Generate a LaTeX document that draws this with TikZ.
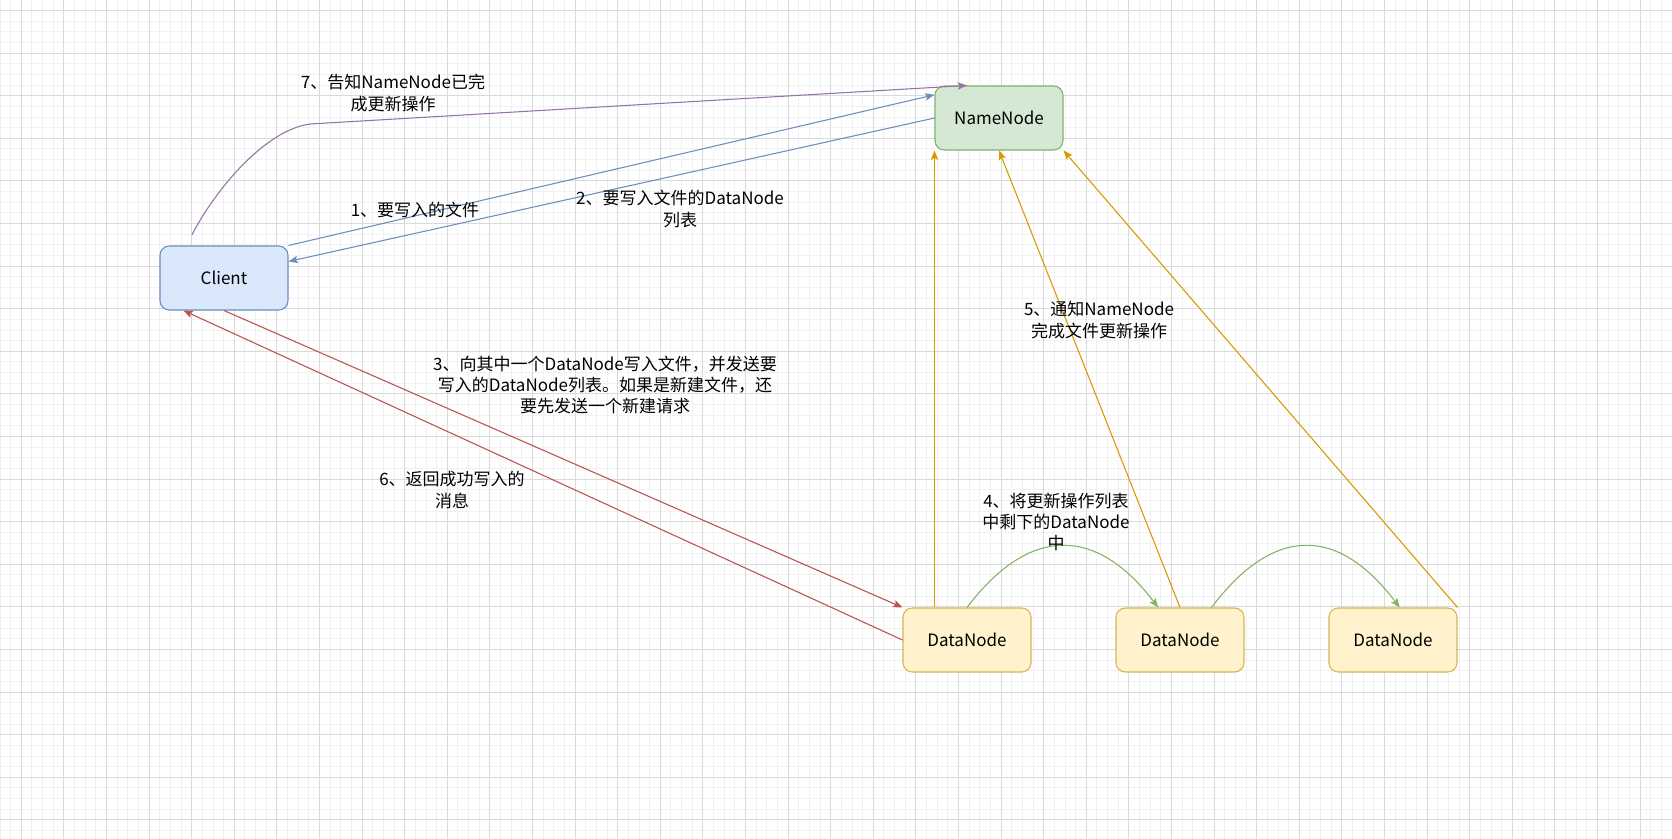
\documentclass[tikz,border=0pt]{standalone}
\usepackage{fontspec}
\setmainfont{Noto Sans CJK SC}
\usetikzlibrary{arrows.meta}

\definecolor{clientfill}{HTML}{DAE8FC}
\definecolor{clientline}{HTML}{6C8EBF}
\definecolor{namefill}{HTML}{D5E8D4}
\definecolor{nameline}{HTML}{82B366}
\definecolor{datafill}{HTML}{FFF2CC}
\definecolor{dataline}{HTML}{D6B656}
\definecolor{purpleline}{HTML}{9673A6}
\definecolor{redline}{HTML}{B85450}
\definecolor{orangeline}{HTML}{D79B00}
\definecolor{majorgrid}{HTML}{DADADA}
\definecolor{minorgrid}{HTML}{F1F1F1}

\begin{document}
\begin{tikzpicture}[
    x=0.75pt, y=-0.75pt,
    box/.style={
        rectangle,
        rounded corners=7pt,
        line width=0.8pt,
        minimum width=96pt,
        minimum height=48pt,
        font=\fontsize{12.75pt}{16pt}\selectfont
    },
    client/.style={
        box,
        draw=clientline,
        fill=clientfill
    },
    namenode/.style={
        box,
        draw=nameline,
        fill=namefill
    },
    datanode/.style={
        box,
        draw=dataline,
        fill=datafill
    },
    flow/.style={
        line width=0.8pt,
        -{Stealth[length=7pt, width=5.5pt, inset=1.5pt]}
    },
    blueflow/.style={flow, color=clientline},
    purpleflow/.style={flow, color=purpleline},
    redflow/.style={flow, color=redline},
    orangeflow/.style={flow, color=orangeline},
    greenflow/.style={flow, color=nameline},
    msgtext/.style={
        align=center,
        inner sep=0pt,
        font=\fontsize{12.75pt}{16pt}\selectfont
    }
]

% Background grid
\fill[white] (0,0) rectangle (1672,839);
\useasboundingbox (0,0) rectangle (1672,839);
\foreach \i in {0,...,157}
    \draw[minorgrid, line width=0.75pt] ({\i*10.65},0) -- ({\i*10.65},839);
\foreach \j in {0,...,79}
    \draw[minorgrid, line width=0.75pt] (0,{-0.15+\j*10.65}) -- (1672,{-0.15+\j*10.65});
\foreach \i in {0,...,39}
    \draw[majorgrid, line width=0.75pt] ({21.3+\i*42.6},0) -- ({21.3+\i*42.6},839);
\foreach \j in {0,...,19}
    \draw[majorgrid, line width=0.75pt] (0,{10.5+\j*42.6}) -- (1672,{10.5+\j*42.6});

% Nodes
\node[client] (client) at (224,278) {Client};
\node[namenode] (namenode) at (999,118) {NameNode};
\node[datanode] (dn1) at (967,640) {DataNode};
\node[datanode] (dn2) at (1180,640) {DataNode};
\node[datanode] (dn3) at (1393,640) {DataNode};

% Client <-> NameNode
\draw[blueflow] (client.north east) -- ([yshift=-7pt]namenode.north west);
\draw[blueflow] (namenode.west) -- ([yshift=-12pt]client.north east);

\coordinate (c7) at ([xshift=-24pt, yshift=8pt]client.north);
\draw[purpleflow] (c7) .. controls (215,190) and (265,130) .. (310,124)
    -- ([xshift=-24pt]namenode.north);

% Client <-> DataNode
\draw[redflow] (client.south) -- (dn1.north west);
\draw[redflow] (dn1.west) -- ([xshift=18pt]client.south west);

% DataNode -> NameNode
\draw[orangeflow] ([xshift=24pt]dn1.north west) -- (namenode.south west);
\draw[orangeflow] (dn2.north) -- (namenode.south);
\draw[orangeflow] (dn3.north east) -- (namenode.south east);

% DataNode -> DataNode
\draw[greenflow] (dn1.north) .. controls +(62,-82) and +(-62,-82)
    .. ([xshift=32pt]dn2.north west);
\draw[greenflow] ([xshift=72pt]dn2.north west) .. controls +(62,-82) and +(-62,-82)
    .. ([xshift=5pt]dn3.north);

% Labels
\node[msgtext] (t7) at (393,93) {7、告知NameNode已完\\成更新操作};
\node[msgtext] (t1) at (415,210) {1、要写入的文件};
\node[msgtext] (t2) at (680,209) {2、要写入文件的DataNode\\列表};
\node[msgtext] (t3) at (605,385)
    {3、向其中一个DataNode写入文件，并发送要\\写入的DataNode列表。如果是新建文件，还\\要先发送一个新建请求};
\node[msgtext] (t6) at (452,490) {6、返回成功写入的\\消息};
\node[msgtext] (t5) at (1099,320) {5、通知NameNode\\完成文件更新操作};
\node[msgtext] (t4) at (1056,522) {4、将更新操作列表\\中剩下的DataNode\\中};

\end{tikzpicture}
\end{document}
